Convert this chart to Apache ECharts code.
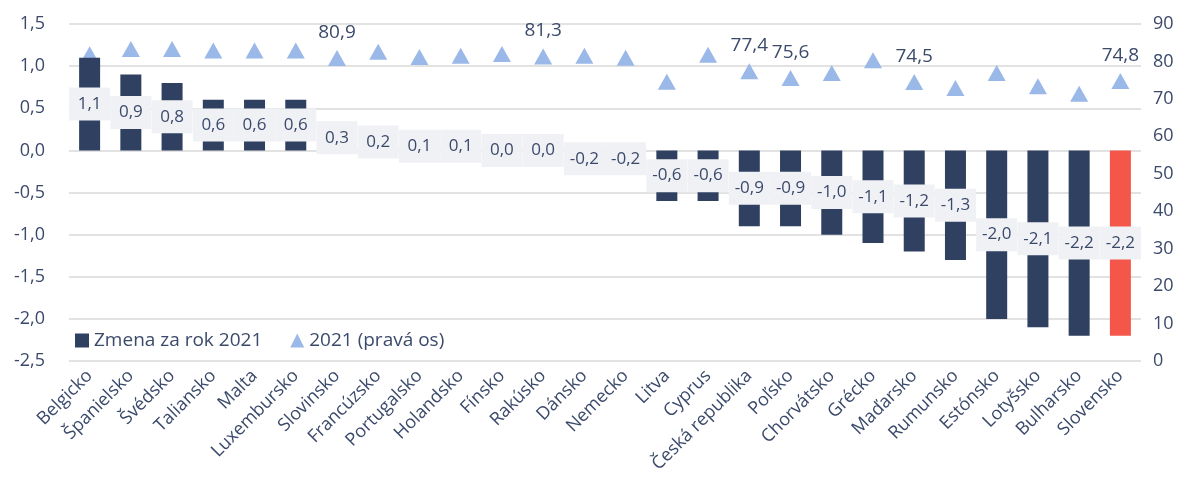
<!DOCTYPE html>
<html>
<head>
<meta charset="utf-8">
<script src="https://cdn.jsdelivr.net/npm/echarts@6/dist/echarts.min.js"></script>
<style>
html, body { margin: 0; padding: 0; background: #fff; }
#chart { width: 1186px; height: 495px; }
</style>
</head>
<body>
<div id="chart"></div>
<script>
// krajiny
var categories = ['Belgicko', 'Španielsko', 'Švédsko', 'Taliansko', 'Malta', 'Luxembursko', 'Slovinsko',
	'Francúzsko', 'Portugalsko', 'Holandsko', 'Fínsko', 'Rakúsko', 'Dánsko', 'Nemecko', 'Litva', 'Cyprus',
	'Česká republika', 'Poľsko', 'Chorvátsko', 'Grécko', 'Maďarsko', 'Rumunsko', 'Estónsko', 'Lotyšsko',
	'Bulharsko', 'Slovensko'];
// zmena za rok 2021 (ľavá os)
var changeValues = [1.1, 0.9, 0.8, 0.6, 0.6, 0.6, 0.3, 0.2, 0.1, 0.1, 0.0, 0.0, -0.2, -0.2, -0.6, -0.6,
	-0.9, -0.9, -1.0, -1.1, -1.2, -1.3, -2.0, -2.1, -2.2, -2.2];
// úroveň 2021 (pravá os)
var levelValues = [81.9, 83.3, 83.3, 82.9, 82.9, 82.9, 80.9, 82.6, 81.2, 81.5, 82.0, 81.3, 81.5, 81.0,
	74.6, 81.8, 77.4, 75.6, 76.9, 80.3, 74.5, 72.9, 76.9, 73.4, 71.4, 74.8];
// ktoré body majú popis
var labelledLevels = ['Slovinsko', 'Rakúsko', 'Česká republika', 'Poľsko', 'Maďarsko', 'Slovensko'];
var highlight = 'Slovensko';

var textColor = '#3B4A6B';
var fontFam = '"Open Sans", "Noto Sans", sans-serif';

function fmt(v) {
	return v.toFixed(1).replace('.', ',');
}

var barData = [];
var lineData = [];
for (var i = 0; i < categories.length; i++) {
	barData.push({
		value : changeValues[i],
		itemStyle : { color : categories[i] == highlight ? '#F5564A' : '#2F4060' }
	});
	lineData.push({
		value : levelValues[i],
		label : { show : labelledLevels.indexOf(categories[i]) >= 0 }
	});
}

var myChart = echarts.init(document.getElementById('chart'));
myChart.setOption({
	animation : false,
	textStyle : { fontFamily : fontFam },
	grid : { left : 69, right : 45, top : 24, bottom : 134 },
	legend : {
		left : 70, top : 326,
		itemWidth : 14, itemHeight : 14, itemGap : 28,
		textStyle : { color : textColor, fontSize : 19, fontFamily : fontFam },
		data : [
			{ name : 'Zmena za rok 2021', icon : 'rect', itemStyle : { color : '#2F4060' } },
			{ name : '2021 (pravá os)', icon : 'triangle' }
		]
	},
	xAxis : {
		type : 'category',
		data : categories,
		axisLine : { show : false },
		axisTick : { show : false },
		axisLabel : {
			rotate : 45, interval : 0, margin : 12,
			color : textColor, fontSize : 18, fontFamily : fontFam
		}
	},
	yAxis : [{
		type : 'value',
		min : -2.5, max : 1.5, interval : 0.5,
		axisLabel : {
			color : textColor, fontSize : 18, fontFamily : fontFam, margin : 24,
			formatter : function(v) { return fmt(v); }
		},
		splitLine : { lineStyle : { color : '#D9D9D9', width : 1.5 } }
	}, {
		type : 'value',
		min : 0, max : 90, interval : 10,
		axisLabel : { color : textColor, fontSize : 18, fontFamily : fontFam, margin : 12 },
		splitLine : { show : false }
	}],
	series : [{
		name : 'Zmena za rok 2021',
		type : 'bar',
		barWidth : 21,
		data : barData,
		label : {
			show : true,
			position : 'inside',
			color : textColor,
			fontSize : 17,
			fontFamily : fontFam,
			backgroundColor : '#F0F1F5',
			width : 33,
			height : 19,
			lineHeight : 19,
			align : 'center',
			padding : [7, 4],
			formatter : function(p) { return fmt(p.value); }
		}
	}, {
		name : '2021 (pravá os)',
		type : 'line',
		yAxisIndex : 1,
		data : lineData,
		symbol : 'triangle',
		symbolSize : [18, 16],
		lineStyle : { width : 0, opacity : 0 },
		itemStyle : { color : '#9AB8E8' },
		z : 1,
		label : {
			show : false,
			position : 'top',
			distance : 8,
			color : textColor,
			fontSize : 19,
			fontFamily : fontFam,
			formatter : function(p) { return fmt(p.value); }
		}
	}]
});
</script>
</body>
</html>
